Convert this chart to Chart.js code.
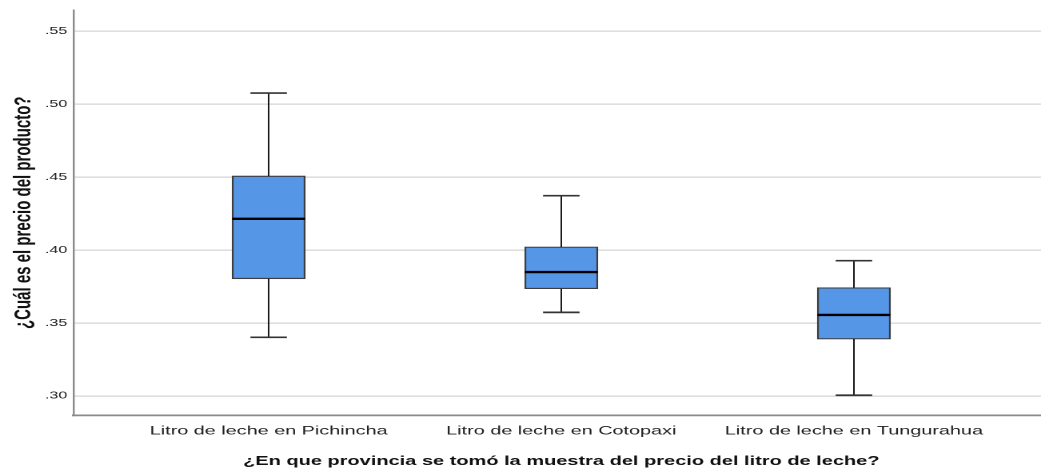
<!DOCTYPE html>
<html lang="es">
<head>
<meta charset="utf-8">
<title>Precio del litro de leche por provincia</title>
<script src="https://cdn.jsdelivr.net/npm/chart.js@4/dist/chart.umd.min.js"></script>
<style>
  html, body { margin: 0; padding: 0; background: #fff; overflow: hidden; }
  /* the drawing surface is widened horizontally to give the SPSS-style wide lettering */
  #wrap { width: 656px; height: 471px; transform: scaleX(1.5991); transform-origin: 0 0; }
  #grafico { display: block; }
</style>
</head>
<body>
<div id="wrap">
  <canvas id="grafico" width="656" height="471"></canvas>
</div>
<script>
// Provincias y resumen de cinco números del precio por litro
const categorias = ['Litro de leche en Pichincha', 'Litro de leche en Cotopaxi', 'Litro de leche en Tungurahua'];
const minimo  = [0.3402, 0.3573, 0.3005];
const q1      = [0.3803, 0.3735, 0.3390];
const mediana = [0.4214, 0.3849, 0.3555];
const q3      = [0.4507, 0.4021, 0.3742];
const maximo  = [0.5075, 0.4372, 0.3927];
const marcasY = [0.30, 0.35, 0.40, 0.45, 0.50, 0.55];

const tituloY = '¿Cuál es el precio del producto?';
const tituloX = '¿En que provincia se tomó la muestra del precio del litro de leche?';

// posición de cada provincia en el eje x (1, 2, 3)
const posiciones = categorias.map((_, i) => i + 1);

const cajas = posiciones.map((x, i) => ({ x: x, y: [q1[i], q3[i]] }));

// bigotes, topes y mediana dibujados con las escalas del gráfico
const bigotes = {
  id: 'bigotes',
  afterDatasetsDraw(chart) {
    const ctx = chart.ctx;
    const xs = chart.scales.x;
    const ys = chart.scales.y;
    const meta = chart.getDatasetMeta(0);
    ctx.save();
    posiciones.forEach((p, i) => {
      const cx = xs.getPixelForValue(p);
      const el = meta.data[i];
      const half = el ? el.width / 2 : 22;
      const tope = half / 2;
      const yMax = ys.getPixelForValue(maximo[i]);
      const yQ3 = ys.getPixelForValue(q3[i]);
      const yQ1 = ys.getPixelForValue(q1[i]);
      const yMin = ys.getPixelForValue(minimo[i]);
      const yMed = ys.getPixelForValue(mediana[i]);

      ctx.strokeStyle = '#1a1a1a';
      ctx.lineWidth = 1;
      ctx.beginPath();
      ctx.moveTo(cx, yQ3); ctx.lineTo(cx, yMax);
      ctx.moveTo(cx, yQ1); ctx.lineTo(cx, yMin);
      ctx.stroke();

      ctx.strokeStyle = '#333';
      ctx.lineWidth = 1.7;
      ctx.beginPath();
      ctx.moveTo(cx - tope, yMax); ctx.lineTo(cx + tope, yMax);
      ctx.moveTo(cx - tope, yMin); ctx.lineTo(cx + tope, yMin);
      ctx.stroke();

      ctx.strokeStyle = '#000';
      ctx.lineWidth = 2.4;
      ctx.beginPath();
      ctx.moveTo(cx - half, yMed); ctx.lineTo(cx + half, yMed);
      ctx.stroke();
    });
    ctx.restore();
  }
};

new Chart(document.getElementById('grafico'), {
  type: 'bar',
  data: {
    datasets: [{
      data: cajas,
      backgroundColor: '#5596e6',
      borderColor: '#3d3d3d',
      borderWidth: 1.2,
      borderSkipped: false,
      barThickness: 45.6
    }]
  },
  options: {
    responsive: false,
    devicePixelRatio: 2,
    animation: false,
    layout: { padding: { top: 10, left: 0, right: 0, bottom: 0 } },
    plugins: { legend: { display: false }, tooltip: { enabled: false } },
    scales: {
      x: {
        type: 'linear',
        offset: false,
        min: 1 / 3,
        max: 11 / 3,
        afterBuildTicks: (s) => { s.ticks = posiciones.map(v => ({ value: v })); },
        afterFit: (s) => { s.height = 55.5; },
        grid: { color: 'rgba(0,0,0,0)', drawTicks: false, offset: false },
        border: { display: true, color: '#8a8a8a', width: 1.8 },
        ticks: {
          autoSkip: false,
          maxRotation: 0,
          padding: 8,
          color: '#222',
          font: { family: '"Liberation Sans", Arial, sans-serif', size: 12.4 },
          callback: (v) => categorias[Math.round(v) - 1] || ''
        },
        title: {
          display: true,
          text: tituloX,
          color: '#111',
          padding: { top: 0, bottom: 2 },
          font: { family: '"Liberation Sans", Arial, sans-serif', size: 12.5, weight: 'bold' }
        }
      },
      y: {
        min: 0.28664,
        max: 0.5644,
        afterBuildTicks: (s) => { s.ticks = marcasY.map(v => ({ value: v })); },
        afterFit: (s) => { s.width = 46; },
        grid: { color: '#d4d4d4', lineWidth: 1.2, drawTicks: false },
        border: { display: true, color: '#8a8a8a', width: 1.2 },
        ticks: {
          padding: 4,
          color: '#222',
          font: { family: '"Liberation Sans", Arial, sans-serif', size: 10 },
          callback: (v) => v.toFixed(2).replace(/^0/, '')
        },
        title: {
          display: true,
          text: tituloY,
          color: '#111',
          padding: { top: 6, bottom: 0 },
          font: { family: '"Liberation Sans", Arial, sans-serif', size: 15, weight: 'bold' }
        }
      }
    }
  },
  plugins: [bigotes]
});
</script>
</body>
</html>
